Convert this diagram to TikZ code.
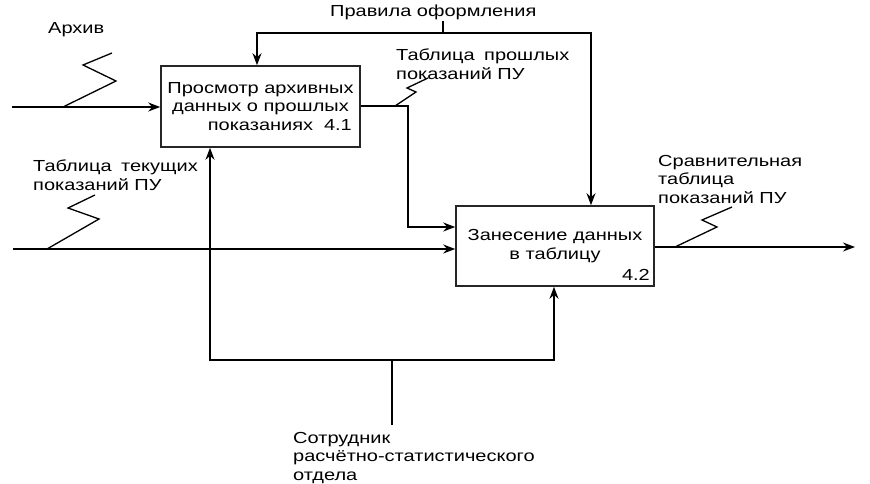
\documentclass[tikz,border=0pt]{standalone}
\usepackage{fontspec}
\setmainfont{Liberation Sans}[FakeStretch=1.25]
\usetikzlibrary{arrows.meta}
\begin{document}
\begin{tikzpicture}[x=1pt,y=-1pt,
  every node/.style={font=\fontsize{16}{18.5}\selectfont},
  procbox/.style={draw=black!85,line width=1.6pt,inner sep=0pt,align=center},
  lbl/.style={inner sep=0pt,align=left,anchor=north west},
  num/.style={inner sep=0pt,anchor=base east},
  conn/.style={line width=1.3pt},
  arr/.style={conn,-{Stealth[length=12pt,width=9pt]}}]
\useasboundingbox (0,0) rectangle (870,484);
% boxes
\node[procbox,minimum width=199pt,minimum height=81pt] (b1) at (260.5,106.5)
  {\rule{0pt}{6pt}Просмотр архивных\\данных о прошлых\\показаниях};
\node[num] (n1) at (352,131) {4.1};
\node[procbox,minimum width=198pt,minimum height=80pt] (b2) at (555,246)
  {\rule{0pt}{8pt}Занесение данных\\в таблицу};
\node[num] (n2) at (650,280) {4.2};
% labels
\node[lbl] (lA) at (48,22) {Архив};
\node[lbl] (lC) at (330,5) {Правила оформления};
\node[lbl] (lP) at (396,49) {Таблица\hspace{4pt} прошлых\\показаний ПУ};
\node[lbl] (lT) at (33,160) {Таблица\hspace{4pt} текущих\\показаний ПУ};
\node[lbl] (lS) at (658,155) {Сравнительная\\таблица\\показаний ПУ};
\node[lbl] (lM) at (293,432) {Сотрудник\\расчётно-статистического\\отдела};
% coordinates
\coordinate (inA) at (12,107);
\coordinate (cj) at (443,33);
\coordinate (cjt) at (443,21);
\coordinate (c1) at (257,33);
\coordinate (c2) at (591,33);
\coordinate (o1) at (408,106);
\coordinate (o1b) at (408,227);
\coordinate (in2) at (13,249);
\coordinate (mb) at (392,425);
\coordinate (mj) at (392,360);
\coordinate (m1) at (210,360);
\coordinate (m2) at (554,360);
\coordinate (out) at (855,247);
% input archive
\draw[arr] (inA) -- (inA -| b1.west);
\draw[conn] (63,107) -- (116,81) -- (83,65) -- (112,53);
% control
\draw[conn] (cjt) -- (cj);
\draw[arr] (cj) -- (c1) -- (c1 |- b1.north);
\draw[arr] (cj) -- (c2) -- (c2 |- b2.north);
% output of 4.1 to 4.2
\draw[arr] (o1 -| b1.east) -- (o1) -- (o1b) -- (o1b -| b2.west);
\draw[conn] (395,106) -- (416,92) -- (407,88) -- (428,78);
% input 2
\draw[arr] (in2) -- (in2 -| b2.west);
\draw[conn] (47,249) -- (99,219) -- (68,208) -- (95,195);
% mechanism
\draw[conn] (mb) -- (mj);
\draw[arr] (mj) -- (m1) -- (m1 |- b1.south);
\draw[arr] (mj) -- (m2) -- (m2 |- b2.south);
% output
\draw[arr] (out -| b2.east) -- (out);
\draw[conn] (675,247) -- (717,227) -- (702,220) -- (732,207);
\end{tikzpicture}
\end{document}
